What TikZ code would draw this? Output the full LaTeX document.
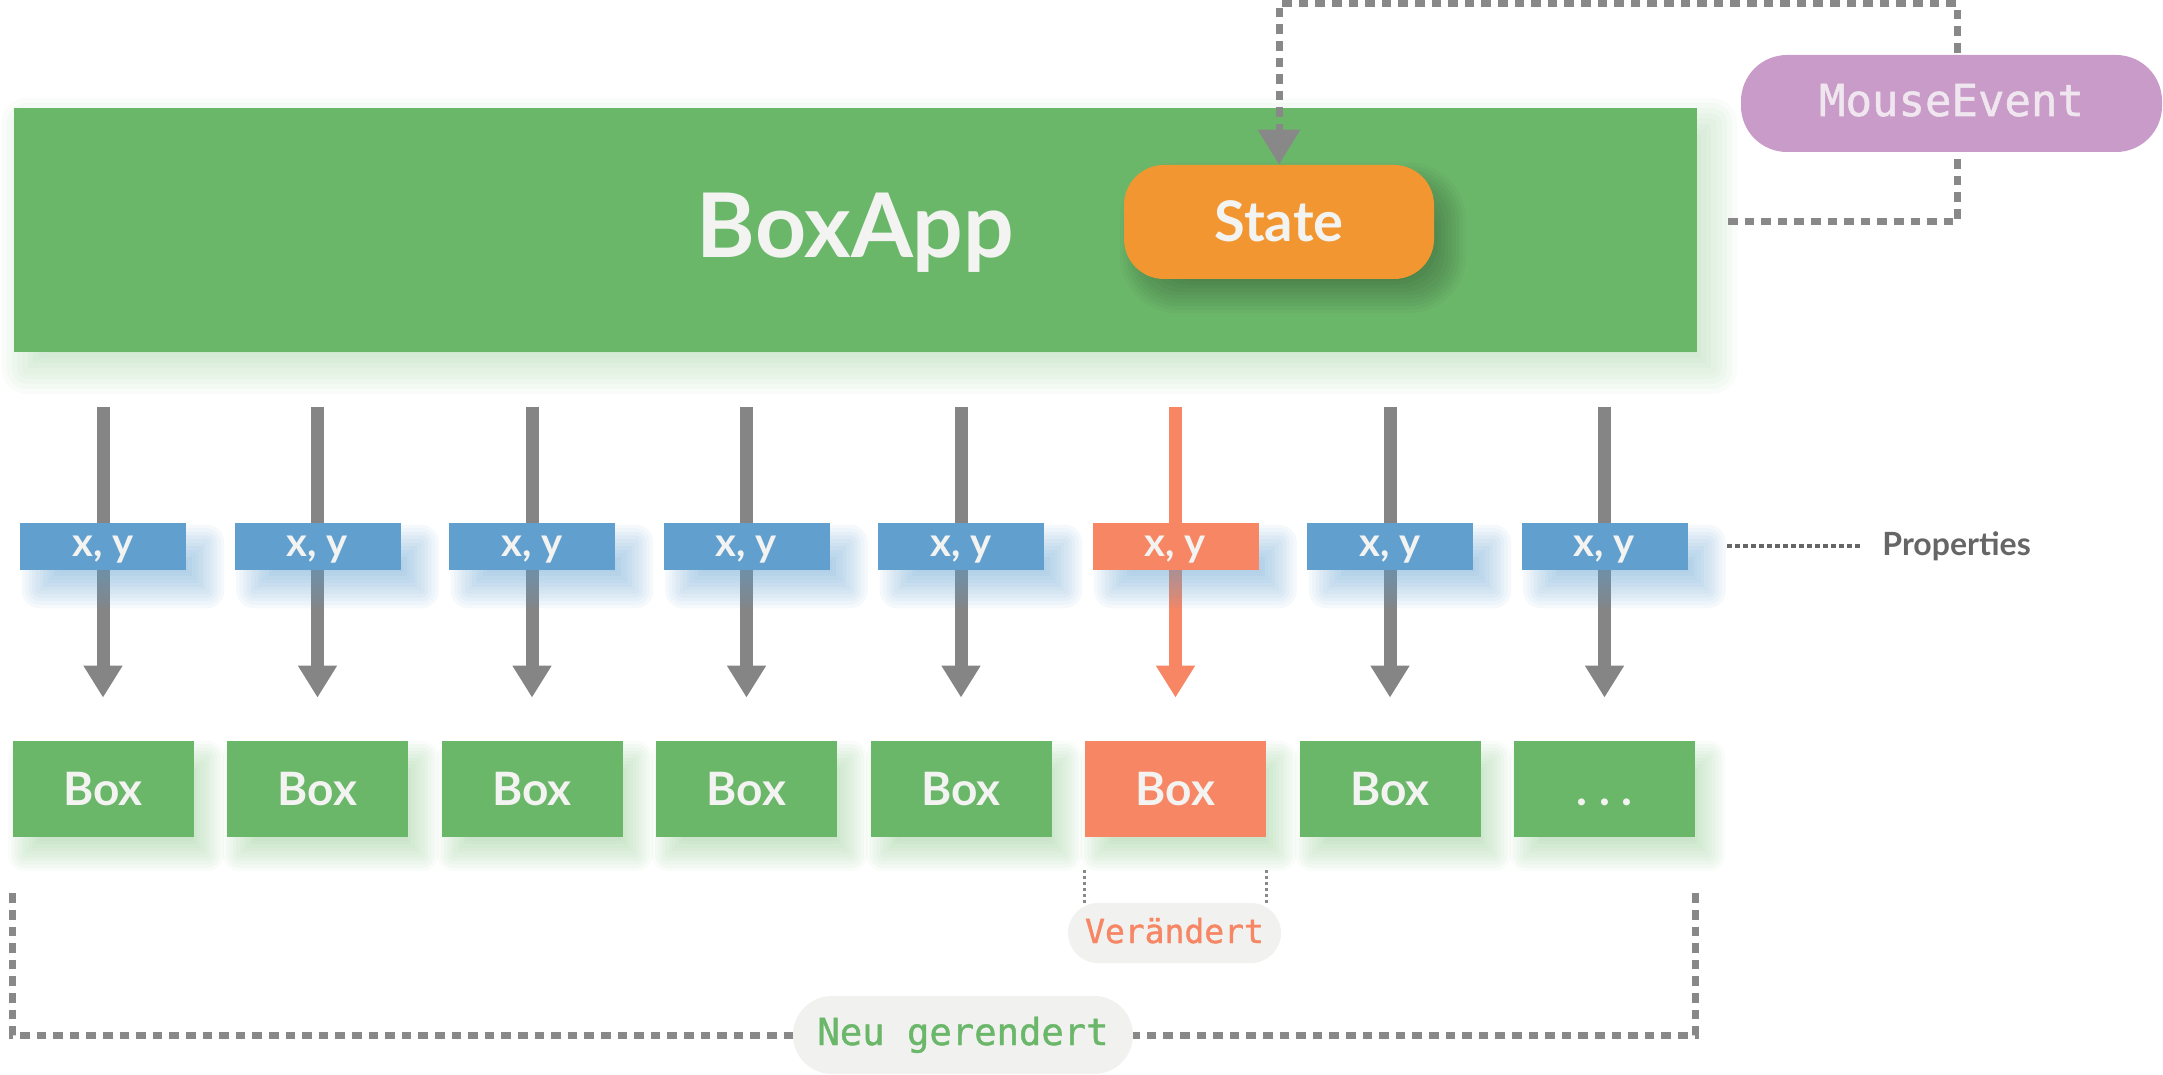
\documentclass[tikz,border=0pt]{standalone}
\usepackage{fontspec}
\setmainfont{Lato}
\newfontfamily\monof[FakeBold=1.2]{DejaVu Sans Mono}
\usetikzlibrary{arrows.meta}
\definecolor{bgreen}{HTML}{6BB76A}
\definecolor{bblue}{HTML}{619FCF}
\definecolor{bsalmon}{HTML}{F78664}
\definecolor{borange}{HTML}{F29631}
\definecolor{bpurple}{HTML}{C99BC8}
\definecolor{arrowgray}{HTML}{858585}
\definecolor{dotgray}{HTML}{888888}
\definecolor{pillbg}{HTML}{F1F1EF}
\definecolor{txtlight}{HTML}{F3F3F1}
\definecolor{mousetxt}{HTML}{F0E6EF}
\definecolor{proptxt}{HTML}{666666}
\pgfdeclarelayer{bg}
\pgfdeclarelayer{appl}
\pgfdeclarelayer{mid}
\pgfsetlayers{bg,appl,mid,main}
\newcommand\softshadow[7]{%
  \foreach \kk in {-5,...,5}{%
    \pgfmathsetmacro\dd{\kk*(#5)/5}%
    \pgfmathsetmacro\rr{max(0,\dd)*0.5+(#7)}%
    \pgfmathsetmacro\xa{(#3)-(\dd)}%
    \pgfmathsetmacro\ya{(#4)-(\dd)}%
    \pgfmathsetmacro\xb{(#3)+(\dd)}%
    \pgfmathsetmacro\yb{(#4)+(\dd)}%
    \fill[#2, fill opacity=#6, rounded corners=\rr pt]
      ([shift={(\xa,\ya)}]#1.north west) rectangle ([shift={(\xb,\yb)}]#1.south east);
  }%
}
\begin{document}
\begin{tikzpicture}[x=0.5pt,y=-0.5pt,
  appbox/.style={fill=bgreen, minimum width=841.5pt, minimum height=122pt, inner sep=0pt,
    text=txtlight, font=\bfseries\fontsize{44.6pt}{50pt}\selectfont, text height=27pt, text depth=0pt},
  statebox/.style={fill=borange, rounded corners=20pt, minimum width=155pt, minimum height=57pt,
    inner sep=0pt, text=txtlight, font=\bfseries\fontsize{28pt}{32pt}\selectfont, text height=20pt, text depth=0pt},
  mousebox/.style={fill=bpurple, rounded corners=23pt, minimum width=210.5pt, minimum height=48.5pt,
    inner sep=0pt, text=mousetxt, font=\monof\fontsize{22pt}{26pt}\selectfont, text height=12.5pt, text depth=0pt},
  xybox/.style={minimum width=83pt, minimum height=23.5pt, inner sep=0pt, text=txtlight,
    font=\bfseries\fontsize{20pt}{24pt}\selectfont, text height=10pt, text depth=0pt},
  itembox/.style={minimum width=90.5pt, minimum height=48pt, inner sep=0pt, text=txtlight,
    font=\bfseries\fontsize{23pt}{27pt}\selectfont, text height=16.5pt, text depth=0pt},
  pill/.style={fill=pillbg, inner sep=0pt, text depth=0pt},
  flowarrow/.style={line width=6.5pt, shorten <=27.5pt, shorten >=21.5pt,
    -{Triangle[width=18.5pt,length=16pt]}},
  bigdot/.style={draw=dotgray, line width=3.5pt, dash pattern=on 4.8pt off 3.5pt},
  thindot/.style={draw=dotgray, line width=1.5pt, dash pattern=on 1.5pt off 1.5pt},
  propdot/.style={draw=proptxt, line width=1.8pt, dash pattern=on 2.5pt off 1.5pt}
]
\useasboundingbox (0,0) rectangle (2163,1075);

% BoxApp container
\begin{pgfonlayer}{appl}
\node[appbox] (boxapp) at (855.5,230) {BoxApp};
\end{pgfonlayer}
\begin{pgfonlayer}{bg}
\softshadow{boxapp}{bgreen}{14}{16}{26}{0.04}{0}
\end{pgfonlayer}

% State
\node[statebox] (state) at (1279,222) {State};
\begin{pgfonlayer}{mid}
\softshadow{state}{black}{14}{16}{18}{0.028}{20}
\end{pgfonlayer}

% MouseEvent
\node[mousebox] (mouse) at (1951.5,103.5) {MouseEvent};
\coordinate (evin) at (1728,222);
\coordinate (evtop) at (1957,4);
\begin{pgfonlayer}{mid}
\draw[bigdot, -{Triangle[width=20.5pt,length=17.5pt]}] (evin) -| (evtop) -| (state.north);
\end{pgfonlayer}

% boxes, properties and arrows
\foreach \i/\xc/\bc/\ac/\t in {1/bblue/bgreen/arrowgray/Box, 2/bblue/bgreen/arrowgray/Box,
    3/bblue/bgreen/arrowgray/Box, 4/bblue/bgreen/arrowgray/Box, 5/bblue/bgreen/arrowgray/Box,
    6/bsalmon/bsalmon/bsalmon/Box, 7/bblue/bgreen/arrowgray/Box, 8/bblue/bgreen/arrowgray/{.\ .\ .}}{
  \pgfmathsetmacro\cx{103+(\i-1)*214.5}
  \node[itembox, fill=\bc] (box\i) at (\cx,789) {\t};
  \node[xybox, fill=\xc] (xy\i) at (\cx,546.5) {x, y};
  \begin{pgfonlayer}{bg}
  \softshadow{box\i}{bgreen}{13}{17}{17}{0.045}{0}
  \end{pgfonlayer}
  \begin{pgfonlayer}{mid}
  \draw[flowarrow, draw=\ac] (boxapp.south -| box\i.north) -- (box\i.north);
  \softshadow{xy\i}{bblue}{20}{20}{18}{0.06}{0}
  \end{pgfonlayer}
}

% Properties label
\node[anchor=base west, inner sep=0pt, text=proptxt, font=\bfseries\fontsize{16pt}{19pt}\selectfont] (props) at (1882,555) {Properties};
\coordinate (propstart) at (1727,546);
\draw[propdot, shorten >=10pt] (propstart) -- (propstart -| props.west);

% Veraendert
\node[pill, rounded corners=15pt, minimum width=106.5pt, minimum height=30pt, text=bsalmon,
  font=\monof\fontsize{16.5pt}{20pt}\selectfont, text height=10pt] (ver) at (1174.5,933) {Verändert};
\begin{pgfonlayer}{mid}
\draw[thindot, shorten <=16.5pt] (box6.south west) -- (box6.south west |- ver.north);
\draw[thindot, shorten <=16.5pt] (box6.south east) -- (box6.south east |- ver.north);
\end{pgfonlayer}

% Neu gerendert
\node[pill, rounded corners=19.5pt, minimum width=170pt, minimum height=39pt, text=bgreen,
  font=\monof\fontsize{18.6pt}{22pt}\selectfont, text height=10pt] (neu) at (963,1035) {Neu gerendert};
\begin{pgfonlayer}{mid}
\draw[bigdot, shorten <=28pt] (box1.south west) |- (neu.west);
\draw[bigdot, shorten <=28pt] (box8.south east) |- (neu.east);
\end{pgfonlayer}
\end{tikzpicture}
\end{document}
